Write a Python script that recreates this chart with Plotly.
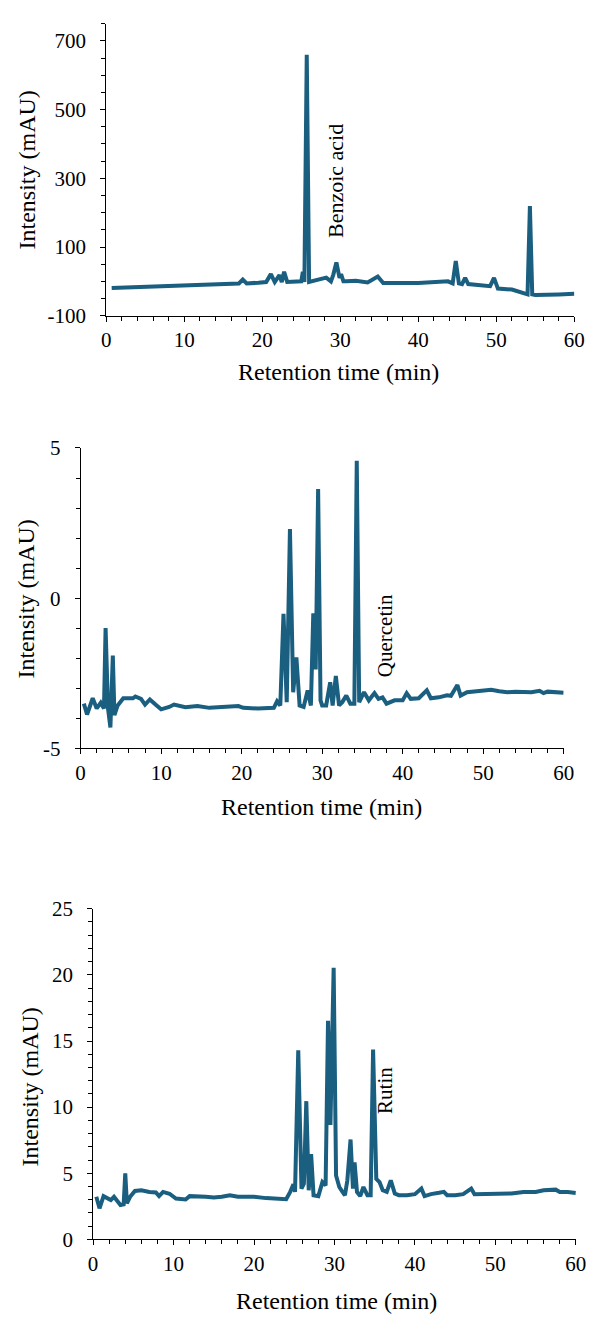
import plotly.graph_objects as go

# ---------------- Data ----------------
# Panel 1: Benzoic acid
t1 = [0.7, 5, 10, 15, 17, 17.5, 18, 19.5, 20.5, 21.1, 21.6, 22.2, 22.5, 22.8, 23.2,
      25.0, 25.2, 25.4, 25.7, 26.0, 26.3, 27, 28.2, 28.8, 29.1, 29.5, 29.9, 30.1, 30.4,
      30.8, 32, 33.5, 34.8, 35.5, 40, 43.8, 44.4, 44.8, 45.2, 45.6, 46.0, 46.4, 48, 49.2,
      49.7, 50.2, 52, 53.5, 54.0, 54.3, 54.6, 55, 56.5, 58, 60]
v1 = [-19, -16, -13, -9, -6, 5, -6, -4, -2, 21, -2, 18, -2, 28, -2,
      0, 28, -2, 660, -2, 0, 2, 11, 0, 19, 55, 10, 21, 0,
      0, 2, -3, 14, -5, -5, 0, -6, 59, -6, -8, 10, -8, -10, -14,
      10, -21, -24, -33, -38, 219, -38, -40, -40, -38, -36]

# Panel 2: Quercetin
t2 = [0.4, 0.8, 1.5, 2.0, 2.5, 2.9, 3.1, 3.4, 3.7, 4.0, 4.2, 4.6, 5.3, 6.5, 6.8,
      7.5, 8.0, 8.6, 9.3, 10.0, 11.0, 11.6, 13.0, 14.5, 16.0, 18.0, 19.6, 20.2, 22.0, 24.0,
      24.4, 24.8, 25.2, 25.6, 26.0, 26.4, 26.8, 27.2, 27.7, 28.2, 28.6, 28.9, 29.2, 29.5, 29.8,
      30.0, 30.5, 31.0, 31.3, 31.7, 32.1, 32.5, 33.0, 33.5, 34.0, 34.3, 34.6, 35.2, 35.8, 36.5,
      37.0, 37.5, 38.0, 39.0, 40.0, 40.5, 41.0, 42.0, 43.0, 43.5, 44.5, 45.5, 46.0, 46.8, 47.2,
      48.0, 49.0, 50.0, 51.0, 52.0, 53.0, 54.0, 55.0, 56.0, 57.0, 57.5, 58.0, 59.0, 60.0]
v2 = [-3.51, -3.87, -3.33, -3.67, -3.48, -3.67, -0.99, -3.67, -4.30, -1.91, -3.89, -3.57, -3.33, -3.33, -3.27,
      -3.35, -3.54, -3.37, -3.54, -3.70, -3.62, -3.54, -3.63, -3.59, -3.65, -3.62, -3.59, -3.65, -3.67, -3.65,
      -3.43, -3.57, -0.52, -3.46, 2.30, -3.13, -1.97, -3.57, -3.62, -3.07, -3.57, -0.50, -2.37, 3.63, -3.40,
      -3.57, -3.57, -2.80, -3.57, -2.59, -3.57, -3.46, -3.24, -3.51, -3.51, 4.57, -3.46, -3.13, -3.40, -3.16,
      -3.35, -3.30, -3.51, -3.40, -3.40, -3.16, -3.35, -3.33, -3.07, -3.33, -3.30, -3.23, -3.25, -2.89, -3.24,
      -3.13, -3.10, -3.08, -3.05, -3.10, -3.13, -3.11, -3.11, -3.13, -3.08, -3.16, -3.11, -3.13, -3.15]

# Panel 3: Rutin
t3 = [0.4, 0.8, 1.3, 1.8, 2.2, 2.6, 3.0, 3.4, 3.8, 4.0, 4.2, 4.6, 5.2, 6.0, 7.0,
      7.8, 8.2, 8.7, 9.5, 10.3, 11.5, 12.0, 14.0, 15.0, 16.0, 17.0, 18.0, 20.0, 21.5, 24.0,
      24.5, 24.9, 25.1, 25.5, 25.9, 26.2, 26.5, 26.8, 27.1, 27.4, 28.0, 28.5, 28.9, 29.2, 29.5,
      29.9, 30.2, 30.6, 31.0, 31.3, 31.6, 32.0, 32.3, 32.5, 32.8, 33.2, 33.6, 34.1, 34.5, 34.8,
      35.2, 35.6, 36.0, 36.5, 37.0, 37.5, 38.0, 39.0, 40.0, 40.8, 41.2, 42.0, 43.0, 43.6, 44.0,
      45.0, 46.0, 47.0, 47.4, 48.0, 50.0, 52.0, 53.5, 55.0, 56.0, 57.5, 58.0, 59.0, 60.0]
v3 = [3.22, 2.35, 3.27, 3.09, 2.97, 3.22, 2.92, 2.60, 2.65, 5.0, 2.72, 3.22, 3.66, 3.71, 3.59,
      3.55, 3.27, 3.59, 3.45, 3.09, 3.02, 3.27, 3.22, 3.17, 3.22, 3.34, 3.22, 3.22, 3.12, 3.04,
      3.59, 4.16, 3.59, 14.3, 3.84, 4.2, 10.45, 3.71, 6.44, 3.34, 3.27, 4.33, 4.08, 16.53, 8.66,
      20.54, 4.83, 3.96, 3.59, 3.34, 4.45, 7.55, 3.84, 5.82, 3.59, 3.27, 3.96, 3.34, 3.34, 14.36,
      4.58, 4.33, 3.71, 3.59, 4.46, 3.47, 3.34, 3.34, 3.42, 3.84, 3.27, 3.42, 3.52, 3.59, 3.34,
      3.34, 3.42, 3.84, 3.42, 3.42, 3.42, 3.47, 3.59, 3.59, 3.71, 3.76, 3.59, 3.59, 3.51]

# Tick labels
x_ticks = [0, 10, 20, 30, 40, 50, 60]
x_labels = ["0", "10", "20", "30", "40", "50", "60"]
y1_ticks = [-100, 100, 300, 500, 700]
y1_labels = ["-100", "100", "300", "500", "700"]
y2_ticks = [-5, 0, 5]
y2_labels = ["-5", "0", "5"]
y3_ticks = [0, 5, 10, 15, 20, 25]
y3_labels = ["0", "5", "10", "15", "20", "25"]

compound_labels = ["Benzoic acid", "Quercetin", "Rutin"]
x_title = "Retention time (min)"
y_title = "Intensity (mAU)"

# ---------------- Layout ----------------
W, H = 599, 1326
FONT = "Liberation Serif"
LINE_COLOR = "#1a5e80"

def px2x(px):
    return px / W

def px2y(py):
    return 1 - py / H

# plot areas in window pixels: (left, right, top, bottom)
areas = [(104, 585, 12, 309.3), (77.7, 574, 444, 750), (90.5, 586.5, 913.3, 1250)]

fig = go.Figure()
series = [(t1, v1), (t2, v2), (t3, v3)]
for i, (tx, vy) in enumerate(series):
    sfx = "" if i == 0 else str(i + 1)
    fig.add_trace(go.Scatter(x=tx, y=vy, mode="lines",
                             line=dict(color=LINE_COLOR, width=4),
                             xaxis="x" + sfx, yaxis="y" + sfx,
                             showlegend=False, hoverinfo="skip"))

common_axis = dict(showline=True, linecolor="#000000", linewidth=1,
                   ticks="outside", ticklen=5, tickwidth=1, tickcolor="#000000",
                   showgrid=False, zeroline=False, fixedrange=True,
                   tickfont=dict(family=FONT, size=21, color="#000000"))

yspecs = [
    dict(range=[-100, 750], tickvals=y1_ticks, ticktext=y1_labels,
         minor=dict(ticks="outside", ticklen=4, tickcolor="#000000", dtick=50, tick0=-100, showgrid=False)),
    dict(range=[-5, 5], tickvals=y2_ticks, ticktext=y2_labels,
         minor=dict(ticks="outside", ticklen=4, tickcolor="#000000", dtick=1, tick0=-5, showgrid=False)),
    dict(range=[0, 25], tickvals=y3_ticks, ticktext=y3_labels,
         minor=dict(ticks="outside", ticklen=4, tickcolor="#000000", dtick=1, tick0=0, showgrid=False)),
]

layout = dict(width=W, height=H, paper_bgcolor="white", plot_bgcolor="white",
              margin=dict(l=0, r=0, t=0, b=0, pad=0), showlegend=False, hovermode=False)

for i, a in enumerate(areas):
    sfx = "" if i == 0 else str(i + 1)
    xa = dict(common_axis)
    xa.update(domain=[px2x(a[0]), px2x(a[1])], range=[0, 60], tickvals=x_ticks, ticktext=x_labels,
              anchor="y" + sfx, ticklabelstandoff=0,
              minor=dict(ticks="outside", ticklen=4, tickcolor="#000000", dtick=2, tick0=0, showgrid=False))
    ya = dict(common_axis)
    ya.update(domain=[px2y(a[3]), px2y(a[2])], anchor="x" + sfx, ticklabelstandoff=10, **yspecs[i])
    layout["xaxis" + sfx] = xa
    layout["yaxis" + sfx] = ya

annotations = []
xtitle_pos = [(343, 367), (325, 810), (341, 1313)]
ytitle_pos = [(23, 161), (22, 598), (26, 1095)]
for (px, py) in xtitle_pos:
    annotations.append(dict(text=x_title, x=px2x(px), y=px2y(py), xref="paper", yref="paper",
                            showarrow=False, xanchor="center", yanchor="middle",
                            font=dict(family=FONT, size=24, color="#000000")))
for (px, py) in ytitle_pos:
    annotations.append(dict(text=y_title, x=px2x(px), y=px2y(py), xref="paper", yref="paper",
                            showarrow=False, xanchor="center", yanchor="middle", textangle=-90,
                            font=dict(family=FONT, size=24, color="#000000")))

label_pos = [(29.4, 291), (37.9, -1.24), (36.3, 11.24)]
label_size = [22, 21, 21]
for i, ((lx, ly), txt) in enumerate(zip(label_pos, compound_labels)):
    sfx = "" if i == 0 else str(i + 1)
    annotations.append(dict(text=txt, x=lx, y=ly, xref="x" + sfx, yref="y" + sfx,
                            showarrow=False, xanchor="center", yanchor="middle", textangle=-90,
                            font=dict(family=FONT, size=label_size[i], color="#000000")))

layout["annotations"] = annotations
fig.update_layout(**layout)

# drop the browser's default 8px page margin so the figure sits at the window origin
fig.write_html("out.html", config={"displayModeBar": False, "staticPlot": True},
               post_script="document.body.style.margin='0';document.body.style.overflow='hidden';")
